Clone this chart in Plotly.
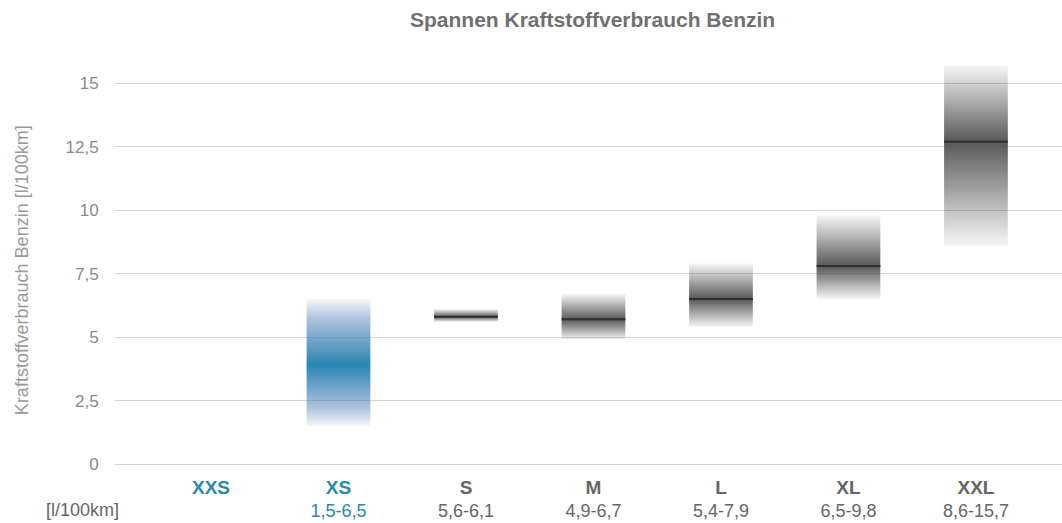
import plotly.graph_objects as go

categories = ["XXS", "XS", "S", "M", "L", "XL", "XXL"]
low = [None, 1.5, 5.6, 4.9, 5.4, 6.5, 8.6]
high = [None, 6.5, 6.1, 6.7, 7.9, 9.8, 15.7]
median = [None, 3.9, 5.8, 5.7, 6.5, 7.8, 12.7]
range_labels = ["", "1,5-6,5", "5,6-6,1", "4,9-6,7", "5,4-7,9", "6,5-9,8", "8,6-15,7"]
highlight = [True, True, False, False, False, False, False]
show_median = [False, False, True, True, True, True, True]
y_ticks = [0, 2.5, 5, 7.5, 10, 12.5, 15]
y_ticktext = ["0", "2,5", "5", "7,5", "10", "12,5", "15"]

BLUE = "#2a88b2"
GREY_TXT = "#666666"
HALF = 0.25

fig = go.Figure()


def scale(rgb, mid, peak, edge_mid, edge_rgb=None):
    r, g, b = rgb
    er, eg, eb = edge_rgb if edge_rgb else rgb
    return [
        [0.0, f"rgba({er},{eg},{eb},0.05)"],
        [mid * 0.3, f"rgba({er},{eg},{eb},{edge_mid})"],
        [mid, f"rgba({r},{g},{b},{peak})"],
        [mid + (1 - mid) * 0.7, f"rgba({er},{eg},{eb},{edge_mid})"],
        [1.0, f"rgba({er},{eg},{eb},0.05)"],
    ]


for i, cat in enumerate(categories):
    if low[i] is None:
        continue
    lo, hi, md = low[i], high[i], median[i]
    mid = (md - lo) / (hi - lo)
    if highlight[i]:
        cs = scale((38, 135, 178), mid, 1.0, 0.45, (70, 120, 180))
    else:
        cs = scale((70, 70, 70), mid, 0.9, 0.3)
    fig.add_trace(go.Scatter(
        x=[i - HALF, i + HALF, i + HALF, i - HALF, i - HALF],
        y=[lo, lo, hi, hi, lo],
        mode="lines", line=dict(width=0), fill="toself",
        fillgradient=dict(type="vertical", colorscale=cs, start=lo, stop=hi),
        hoverinfo="skip", showlegend=False,
    ))
    if show_median[i]:
        fig.add_trace(go.Scatter(
            x=[i - HALF, i + HALF], y=[md, md], mode="lines",
            line=dict(color="#2e2e2e", width=2),
            hoverinfo="skip", showlegend=False,
        ))

ticktext = []
for i, cat in enumerate(categories):
    col = BLUE if highlight[i] else GREY_TXT
    t = f"<b><span style='color:{col};font-size:19px'>{cat}</span></b>"
    t += f"<br><span style='color:{col}'>{range_labels[i]}</span>"
    ticktext.append(t)

fig.update_layout(
    width=1062, height=523,
    margin=dict(l=115, r=0, t=58, b=59),
    paper_bgcolor="white", plot_bgcolor="white",
    separators=",.",
    font=dict(family="Liberation Sans, Arial, sans-serif", color="#888888", size=16),
    title=dict(text="<b>Spannen Kraftstoffverbrauch Benzin</b>",
               font=dict(size=21, color="#707070"),
               x=0.558, xref="container", xanchor="center",
               y=0.962, yref="container", yanchor="middle"),
    xaxis=dict(range=[-0.753, 6.675], tickvals=list(range(len(categories))),
               ticktext=ticktext, showgrid=False, zeroline=False,
               showline=False, ticks="outside", ticklen=7,
               tickcolor="rgba(0,0,0,0)", tickfont=dict(size=18, color=GREY_TXT)),
    yaxis=dict(range=[0, 16], tickvals=y_ticks, ticktext=y_ticktext,
               showgrid=True, gridcolor="#d6d6d6", gridwidth=1,
               zeroline=True, zerolinecolor="#d6d6d6", zerolinewidth=1,
               showline=False, ticks="outside", ticklen=12,
               tickcolor="rgba(0,0,0,0)", tickfont=dict(size=17, color="#8a8a8a")),
    annotations=[
        dict(text="Kraftstoffverbrauch Benzin [l/100km]", textangle=-90,
             xref="paper", yref="paper", x=-0.098, y=0.478,
             xanchor="center", yanchor="middle", showarrow=False,
             font=dict(size=18, color="#9a9a9a")),
        dict(text="[l/100km]", xref="paper", yref="paper",
             x=-0.034, y=-0.113, xanchor="center", yanchor="middle",
             showarrow=False, font=dict(size=18, color=GREY_TXT)),
    ],
)

fig.write_html("out.html", config={"displayModeBar": False},
               post_script="document.body.style.margin='0';")
